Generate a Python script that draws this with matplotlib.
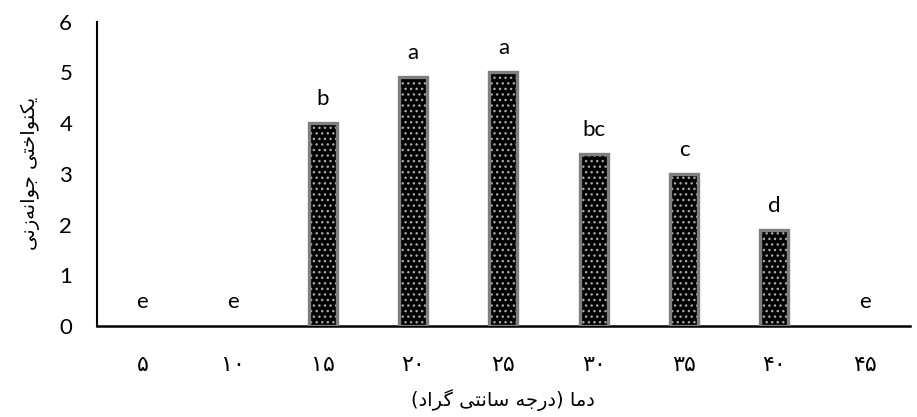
import matplotlib.pyplot as plt

# Germination uniformity at each temperature, with mean-separation letters
temps = ['۵', '۱۰', '۱۵', '۲۰', '۲۵', '۳۰', '۳۵', '۴۰', '۴۵']
uniformity = [0, 0, 4.0, 4.9, 5.0, 3.4, 3.0, 1.9, 0]
letters = ['e', 'e', 'b', 'a', 'a', 'bc', 'c', 'd', 'e']

x_title = 'دما (درجه سانتی گراد)'
y_title = 'یکنواختی جوانه\u200cزنی'

# matplotlib has no Arabic shaping, so pick the contextual glyph forms by hand
# forms: (isolated, final, initial, medial); None for letters that don't join left
FORMS = {
    'ا': ('\uFE8D', '\uFE8E', None, None),
    'د': ('\uFEA9', '\uFEAA', None, None),
    'ر': ('\uFEAD', '\uFEAE', None, None),
    'ز': ('\uFEAF', '\uFEB0', None, None),
    'و': ('\uFEED', '\uFEEE', None, None),
    'م': ('\uFEE1', '\uFEE2', '\uFEE3', '\uFEE4'),
    'ج': ('\uFE9D', '\uFE9E', '\uFE9F', '\uFEA0'),
    'ه': ('\uFEE9', '\uFEEA', '\uFEEB', '\uFEEC'),
    'س': ('\uFEB1', '\uFEB2', '\uFEB3', '\uFEB4'),
    'ن': ('\uFEE5', '\uFEE6', '\uFEE7', '\uFEE8'),
    'ت': ('\uFE95', '\uFE96', '\uFE97', '\uFE98'),
    'خ': ('\uFEA5', '\uFEA6', '\uFEA7', '\uFEA8'),
    'ی': ('\uFBFC', '\uFBFD', '\uFBFE', '\uFBFF'),
    'ک': ('\uFB8E', '\uFB8F', '\uFB90', '\uFB91'),
    'گ': ('\uFB92', '\uFB93', '\uFB94', '\uFB95'),
}


def joins_left(ch):
    return ch in FORMS and FORMS[ch][2] is not None


def shape(text):
    out = []
    for i, ch in enumerate(text):
        if ch == '\u200c':
            continue
        if ch not in FORMS:
            out.append(ch)
            continue
        prev = text[i - 1] if i > 0 else ''
        nxt = text[i + 1] if i + 1 < len(text) else ''
        after = joins_left(prev)
        before = joins_left(ch) and nxt in FORMS
        iso, fin, ini, med = FORMS[ch]
        if after and before:
            out.append(med)
        elif after:
            out.append(fin)
        elif before:
            out.append(ini)
        else:
            out.append(iso)
    # lay out right-to-left, mirroring brackets
    mirror = {'(': ')', ')': '('}
    return ''.join(mirror.get(c, c) for c in reversed(out))


plt.rcParams['font.family'] = ['Lato', 'DejaVu Sans']

fig = plt.figure(figsize=(9.17, 4.17), dpi=100)
ax = fig.add_axes([0.106, 0.218, 0.886, 0.73])

pos = list(range(len(temps)))
w = 0.31
edge_w = [2.4 if v > 0 else 0 for v in uniformity]

# dotted black fill, then a grey outline on top
plt.rcParams['hatch.linewidth'] = 1.0
ax.bar(pos, uniformity, width=w, color='black', edgecolor='#a8a8a8',
       hatch='...', linewidth=0, zorder=2)
ax.bar(pos, uniformity, width=w, fill=False, edgecolor='#7f7f7f',
       linewidth=edge_w, zorder=3)

for p, v, lab in zip(pos, uniformity, letters):
    ax.annotate(lab, (p, v), xytext=(0, 13), textcoords='offset points',
                ha='center', va='baseline', fontsize=16)

ax.set_xlim(-0.5, len(temps) - 0.5)
ax.set_ylim(0, 6)
ax.set_yticks(range(7))
ax.set_xticks(pos)
ax.set_xticklabels(temps, family='DejaVu Sans', fontsize=16)
ax.tick_params(axis='y', length=0, pad=18, labelsize=16)
ax.tick_params(axis='x', length=0, pad=21)

for s in ['top', 'right']:
    ax.spines[s].set_visible(False)
ax.spines['left'].set_linewidth(1.5)
ax.spines['bottom'].set_linewidth(1.8)

ax.set_xlabel(shape(x_title), family='DejaVu Sans', fontsize=14, labelpad=10)
ax.set_ylabel(shape(y_title), family='DejaVu Sans', fontsize=14, labelpad=14)

fig.savefig('out.png', dpi=100)
